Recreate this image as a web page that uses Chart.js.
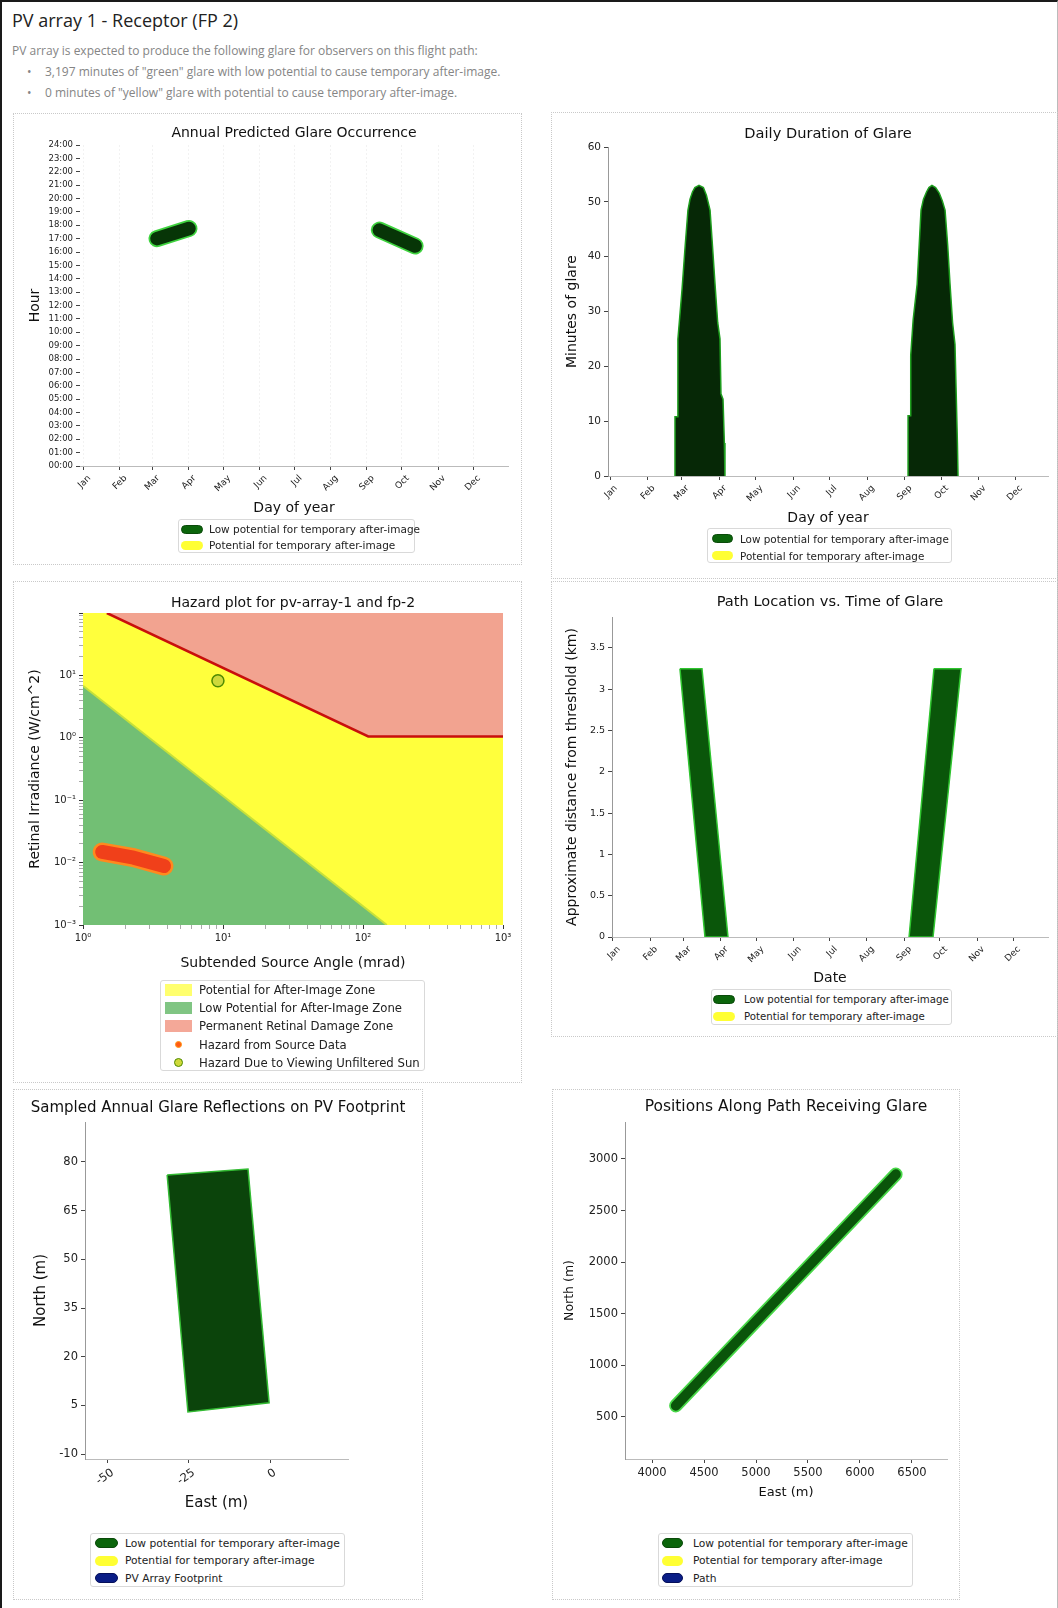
<!DOCTYPE html>
<html>
<head>
<meta charset="utf-8">
<title>PV array 1 - Receptor (FP 2)</title>
<script src="https://cdn.jsdelivr.net/npm/chart.js@4.4.1/dist/chart.umd.min.js"></script>
<style>
  html, body { margin: 0; background: #fff; }
  body { position: relative; width: 1058px; height: 1608px; overflow: hidden; font-family: 'Open Sans', sans-serif; }
  #frame { position: absolute; left: 0; top: 0; width: 1058px; height: 1608px; box-sizing: border-box;
           border-left: 2px solid #1a1a1a; border-top: 2px solid #1a1a1a; border-right: 1px solid #bbb; }
  .hdr { position: absolute; white-space: nowrap; }
  .desc { font-size: 12px; line-height: 16px; color: #858585; }
  .panel { position: absolute; box-sizing: border-box; border: 1px dotted #c9c9c9; }
  canvas { position: absolute; }
  .leg { position: absolute; box-sizing: border-box; border: 1px solid #d9d9d9; border-radius: 3px; background: #fff;
         font-family: 'DejaVu Sans', sans-serif; color: #222; }
  .leg .row { display: flex; align-items: center; height: var(--row); white-space: nowrap; }
  .leg .sw { display: inline-block; flex: none; box-sizing: border-box; margin-left: var(--swl); margin-right: var(--gap);
             width: var(--sww); height: var(--swh); border-radius: 5px; border: 1px solid transparent; }
  .leg .sw.rect { border-radius: 0; border: none; }
  .leg .sw.dot { width: 7px; height: 7px; border-radius: 50%;
                 margin-left: calc(var(--swl) + (var(--sww) - 7px) / 2); margin-right: calc(var(--gap) + (var(--sww) - 7px) / 2); }
  .leg .sw.ring { width: 9px; height: 9px; border-radius: 50%; border-width: 1.5px;
                  margin-left: calc(var(--swl) + (var(--sww) - 9px) / 2); margin-right: calc(var(--gap) + (var(--sww) - 9px) / 2); }
</style>
</head>
<body>
<div id="frame"></div>

<div class="hdr" style="left:12px;top:7px;font-size:18px;line-height:26px;color:#222">PV array 1 - Receptor (FP 2)</div>
<div class="hdr desc" style="left:12px;top:43px">PV array is expected to produce the following glare for observers on this flight path:</div>
<div class="hdr desc" style="left:27px;top:64px">•</div>
<div class="hdr desc" style="left:45px;top:64px">3,197 minutes of "green" glare with low potential to cause temporary after-image.</div>
<div class="hdr desc" style="left:27px;top:85px">•</div>
<div class="hdr desc" style="left:45px;top:85px">0 minutes of "yellow" glare with potential to cause temporary after-image.</div>

<div class="panel" style="left:13px;top:113px;width:509px;height:452px"></div>
<div class="panel" style="left:551px;top:112px;width:507px;height:467px"></div>
<div class="panel" style="left:13px;top:581px;width:509px;height:502px"></div>
<div class="panel" style="left:551px;top:581px;width:507px;height:456px"></div>
<div class="panel" style="left:13px;top:1089px;width:410px;height:511px"></div>
<div class="panel" style="left:552px;top:1089px;width:408px;height:511px"></div>

<canvas id="c1" width="509" height="452" style="left:13px;top:113px;width:509px;height:452px"></canvas>
<canvas id="c2" width="506" height="467" style="left:551px;top:112px;width:506px;height:467px"></canvas>
<canvas id="c3" width="509" height="502" style="left:13px;top:581px;width:509px;height:502px"></canvas>
<canvas id="c4" width="506" height="456" style="left:551px;top:581px;width:506px;height:456px"></canvas>
<canvas id="c5" width="410" height="511" style="left:13px;top:1089px;width:410px;height:511px"></canvas>
<canvas id="c6" width="408" height="511" style="left:552px;top:1089px;width:408px;height:511px"></canvas>

<div id="leg1" class="leg" style="left:178px;top:519px;width:237px;height:34px;padding-top:1px;font-size:10.5px;--row:16px;--swl:2px;--sww:22px;--swh:9px;--gap:6px"></div>
<div id="leg2" class="leg" style="left:707px;top:528px;width:245px;height:35px;padding-top:1px;font-size:10.4px;--row:17px;--swl:4px;--sww:21px;--swh:9px;--gap:7px"></div>
<div id="leg3" class="leg" style="left:160px;top:980px;width:265px;height:91px;padding-top:0;font-size:11.7px;--row:18.2px;--swl:4px;--sww:27px;--swh:12px;--gap:7px"></div>
<div id="leg4" class="leg" style="left:711px;top:989px;width:241px;height:36px;padding-top:1px;font-size:10.2px;--row:17px;--swl:1px;--sww:22px;--swh:9px;--gap:9px"></div>
<div id="leg5" class="leg" style="left:90px;top:1533px;width:255px;height:54px;padding-top:0.5px;font-size:10.7px;--row:17.5px;--swl:4px;--sww:23px;--swh:10px;--gap:7px"></div>
<div id="leg6" class="leg" style="left:658px;top:1533px;width:255px;height:54px;padding-top:0.5px;font-size:10.7px;--row:17.5px;--swl:3px;--sww:21px;--swh:10px;--gap:10px"></div>

<script>
// ===== DATA =====
const MONTHS = ['Jan', 'Feb', 'Mar', 'Apr', 'May', 'Jun', 'Jul', 'Aug', 'Sep', 'Oct', 'Nov', 'Dec'];
const MONTH_START = [0, 31, 59, 90, 120, 151, 181, 212, 243, 273, 304, 334];

// Annual predicted glare occurrence (day of year, hour)
const glareDaysA = [63, 90.5];
const glareHoursA = [17.0, 17.76];
const glareDaysB = [253.7, 284.4];
const glareHoursB = [17.64, 16.45];
const hourTicks = [0, 1, 2, 3, 4, 5, 6, 7, 8, 9, 10, 11, 12, 13, 14, 15, 16, 17, 18, 19, 20, 21, 22, 23, 24];

// Daily duration of glare (outline of each season, day / minutes)
const springDays = [53.6, 53.6, 56, 56, 59.4, 62, 64.3, 66, 68, 70, 73.4, 77, 79.5, 82.5, 84.5, 86.6, 88.8, 90.7, 91.5, 93.2, 94.3, 94.8];
const springMinutes = [0, 10.8, 10.8, 25, 34, 42, 48.5, 50.5, 51.8, 52.6, 53, 52.6, 51.2, 48.5, 42, 35, 28, 25, 15, 14, 6, 0];
const autumnDays = [245.8, 245.8, 248, 248, 250, 253.3, 256.5, 258.5, 261, 263, 265.5, 268.5, 271.5, 274, 276.3, 278.5, 280.4, 282.5, 284.5, 285.5, 286.5, 287];
const autumnMinutes = [0, 11, 11, 22, 28.5, 35, 48.5, 50.5, 51.8, 52.6, 53, 52.6, 51.6, 50.2, 48.5, 42, 35, 28, 24, 15, 6, 0];
const minuteTicks = [0, 10, 20, 30, 40, 50, 60];

// Hazard plot (subtended angle mrad / retinal irradiance W/cm^2)
const damageAngle = [1.48, 109, 1000];
const damageIrr = [100, 1.05, 1.05];
const afterImageAngle = [1, 1.48, 109, 1000];
const afterImageIrr = [100, 100, 1.05, 1.05];
const lowAngle = [1, 148];
const lowIrr = [6.8, 0.001];
const sourceAngle = [1.37, 2.3, 3.79];
const sourceIrr = [0.0148, 0.012, 0.0088];
const sunAngle = [9.2];
const sunIrr = [8.2];

// Path location vs. time of glare (day / km)
const bandADays = [55.9, 74.3, 96, 76.8];
const bandAKm = [3.25, 3.25, 0, 0];
const bandBDays = [268, 290.6, 267.2, 247.2];
const bandBKm = [3.25, 3.25, 0, 0];
const kmTicks = [0, 0.5, 1, 1.5, 2, 2.5, 3, 3.5];

// Sampled reflections on PV footprint (east / north, m)
const footprintEast = [-31.7, -6.8, -0.3, -25.3];
const footprintNorth = [76, 77.8, 5.8, 3.0];
const footEastTicks = [-50, -25, 0];
const footNorthTicks = [-10, 5, 20, 35, 50, 65, 80];

// Positions along path receiving glare (east / north, m)
const pathEast = [4229, 6345];
const pathNorth = [610, 2851];
const pathEastTicks = [4000, 4500, 5000, 5500, 6000, 6500];
const pathNorthTicks = [500, 1000, 1500, 2000, 2500, 3000];

// ===== COLOURS =====
const LEG_GREEN = '#0b650b';
const YELLOW = '#ffff33';
const NAVY = '#0a1d86';

Chart.defaults.font.family = "'DejaVu Sans', sans-serif";
Chart.defaults.color = '#222';

const pts = (xs, ys) => xs.map((x, i) => ({ x: x, y: ys[i] }));
const closed = (xs, ys) => pts(xs.concat(xs[0]), ys.concat(ys[0]));

// legend drawn as html so it can sit in its own framed box
const htmlLegend = {
    id: 'htmlLegend',
    afterUpdate(chart, args, opts) {
        const box = document.getElementById(opts.containerID);
        box.innerHTML = '';
        chart.data.datasets.filter(ds => ds.label).forEach(ds => {
            const row = document.createElement('div');
            row.className = 'row';
            const sw = document.createElement('span');
            sw.className = 'sw ' + (ds.swatch || 'pill');
            sw.style.background = ds.swatchFill;
            if (ds.swatchEdge) sw.style.borderColor = ds.swatchEdge;
            const tx = document.createElement('span');
            tx.textContent = ds.label;
            row.append(sw, tx);
            box.append(row);
        });
    }
};

function xAxis(o) {
    return {
        type: o.type || 'linear', min: o.min, max: o.max,
        afterBuildTicks: s => { s.ticks = o.ticks.map(v => ({ value: v })); },
        afterFit: s => { s.height = o.h; },
        ticks: {
            autoSkip: false, minRotation: o.rot || 0, maxRotation: o.rot || 0, labelOffset: o.off || 0,
            padding: o.tpad !== undefined ? o.tpad : 3, color: '#222', font: { size: o.font }, callback: o.label
        },
        grid: { display: true, drawOnChartArea: !!o.grid, color: 'rgba(0,0,0,0.05)', tickLength: 4, tickColor: o.tickColor || '#444' },
        border: o.border || { display: true, color: '#bbb', dash: [2, 2] },
        title: { display: true, text: o.title, color: '#111', font: { size: o.titleSize }, padding: 0 }
    };
}

function yAxis(o) {
    return {
        type: o.type || 'linear', min: o.min, max: o.max,
        afterBuildTicks: s => { s.ticks = o.ticks.map(v => ({ value: v })); },
        afterFit: s => { s.width = o.w; },
        ticks: { autoSkip: false, padding: 3, color: '#222', font: { size: o.font }, callback: o.label },
        grid: { display: true, drawOnChartArea: false, tickLength: 4, tickColor: o.tickColor || '#444' },
        border: o.border || { display: true, color: '#999' },
        title: { display: true, text: o.title, color: '#111', font: { size: o.titleSize }, padding: { top: o.titlePad, bottom: 0 } }
    };
}

// empty right-hand box, keeps the plot narrow while the title uses the full width
function spacer(w) {
    return { position: 'right', display: true, afterFit: s => { s.width = w; },
             ticks: { display: false }, grid: { display: false }, border: { display: false } };
}

function options(o) {
    return {
        responsive: false, animation: false, events: [],
        layout: { padding: o.pad },
        elements: { point: { radius: 0 }, line: { tension: 0 } },
        plugins: {
            legend: { display: false },
            tooltip: { enabled: false },
            title: {
                display: true, text: o.title, fullSize: !!o.fullTitle, color: '#111',
                font: { size: o.titleSize, weight: 'normal' }, padding: o.titlePad
            },
            htmlLegend: { containerID: o.legend }
        },
        scales: o.scales
    };
}

const monthLabel = (v, i) => MONTHS[i];
const plain = v => String(v);

// ===== ANNUAL PREDICTED GLARE OCCURRENCE =====
function pill(data, width, color, extra) {
    return Object.assign({ data: data, showLine: true, borderColor: color, borderWidth: width,
        borderCapStyle: 'round', borderJoinStyle: 'round', fill: false }, extra || {});
}

new Chart(document.getElementById('c1'), {
    type: 'scatter',
    data: {
        datasets: [
            pill(pts(glareDaysA, glareHoursA), 13.5, '#073507',
                { label: 'Low potential for temporary after-image', swatchFill: LEG_GREEN, swatchEdge: '#0a4a0a' }),
            pill(pts(glareDaysA, glareHoursA), 17, '#3fd33f'),
            pill(pts(glareDaysB, glareHoursB), 13.5, '#073507'),
            pill(pts(glareDaysB, glareHoursB), 17, '#3fd33f'),
            { label: 'Potential for temporary after-image', data: [], swatchFill: YELLOW }
        ]
    },
    plugins: [htmlLegend],
    options: options({
        title: 'Annual Predicted Glare Occurrence', titleSize: 14, titlePad: { top: 11.6, bottom: 3.6 },
        legend: 'leg1', pad: { left: 0, right: 14, top: 0, bottom: 48.6 },
        scales: {
            x: xAxis({ min: -3, max: 364, ticks: MONTH_START, label: monthLabel, h: 50.4, rot: 45, off: 6, font: 9,
                       grid: true, title: 'Day of year', titleSize: 14 }),
            y: yAxis({ min: 0, max: 24, ticks: hourTicks, label: v => String(v).padStart(2, '0') + ':00', w: 67, font: 8.5,
                       border: { display: false }, title: 'Hour', titleSize: 14, titlePad: 13.6 })
        }
    })
});

// ===== DAILY DURATION OF GLARE =====
function season(days, mins, extra) {
    return Object.assign({ data: pts(days, mins), showLine: true, fill: 'origin',
        backgroundColor: '#062806', borderColor: '#1e9e1e', borderWidth: 1.5 }, extra || {});
}

new Chart(document.getElementById('c2'), {
    type: 'scatter',
    data: {
        datasets: [
            season(springDays, springMinutes,
                { label: 'Low potential for temporary after-image', swatchFill: LEG_GREEN, swatchEdge: '#0a4a0a' }),
            season(autumnDays, autumnMinutes),
            { label: 'Potential for temporary after-image', data: [], swatchFill: YELLOW }
        ]
    },
    plugins: [htmlLegend],
    options: options({
        title: 'Daily Duration of Glare', titleSize: 14.6, titlePad: { top: 13.2, bottom: 4.3 },
        legend: 'leg2', pad: { left: 0, right: 9, top: 0, bottom: 52.6 },
        scales: {
            x: xAxis({ min: -1.65, max: 361.2, ticks: MONTH_START, label: monthLabel, h: 50.4, rot: 45, off: 6, font: 9,
                       title: 'Day of year', titleSize: 14 }),
            y: yAxis({ min: 0, max: 60, ticks: minuteTicks, label: plain, w: 57, font: 10.5,
                       title: 'Minutes of glare', titleSize: 14, titlePad: 12.6 })
        }
    })
});

// ===== HAZARD PLOT =====
const SUP = { '-': '⁻', '0': '⁰', '1': '¹', '2': '²', '3': '³' };
const isDecade = v => Math.abs(Math.log10(v) - Math.round(Math.log10(v))) < 1e-9;
const decadeLabel = v => isDecade(v) ? '10' + String(Math.round(Math.log10(v))).split('').map(c => SUP[c]).join('') : '';
function logTicks(lo, hi) {
    const out = [];
    for (let d = lo; d < hi; d *= 10) {
        for (let m = 1; m < 10; m++) out.push(d * m);
    }
    out.push(hi);
    return out;
}
const logTickColor = ctx => (ctx.tick && isDecade(ctx.tick.value)) ? '#333' : '#aaa';

new Chart(document.getElementById('c3'), {
    type: 'scatter',
    data: {
        datasets: [
            { label: 'Potential for After-Image Zone', data: pts(afterImageAngle, afterImageIrr), showLine: true,
              fill: 'start', backgroundColor: '#ffff3c', borderWidth: 0, order: 10, swatch: 'rect', swatchFill: '#ffff6e' },
            { label: 'Low Potential for After-Image Zone', data: pts(lowAngle, lowIrr), showLine: true,
              fill: 'start', backgroundColor: '#72bf74', borderColor: '#c6e03a', borderWidth: 2, order: 9,
              swatch: 'rect', swatchFill: '#80c583' },
            { label: 'Permanent Retinal Damage Zone', data: pts(damageAngle, damageIrr), showLine: true,
              fill: 'end', backgroundColor: '#f2a390', borderColor: '#c8100c', borderWidth: 2.5, order: 8,
              swatch: 'rect', swatchFill: '#f4a898' },
            { label: 'Hazard from Source Data', data: pts(sourceAngle, sourceIrr), showLine: true, fill: false,
              borderColor: '#f0401a', borderWidth: 14, borderCapStyle: 'round', borderJoinStyle: 'round', order: 4,
              swatch: 'dot', swatchFill: '#ff5a14', swatchEdge: '#ff9a1a' },
            { data: pts(sourceAngle, sourceIrr), showLine: true, fill: false,
              borderColor: '#ff8a1e', borderWidth: 19, borderCapStyle: 'round', borderJoinStyle: 'round', order: 5 },
            { label: 'Hazard Due to Viewing Unfiltered Sun', data: pts(sunAngle, sunIrr), showLine: false,
              pointRadius: 6, pointBackgroundColor: '#cfd93a', pointBorderColor: '#4f8a00', pointBorderWidth: 1.5, order: 1,
              swatch: 'ring', swatchFill: '#cfd93a', swatchEdge: '#4f8a00' }
        ]
    },
    plugins: [htmlLegend],
    options: options({
        title: 'Hazard plot for pv-array-1 and fp-2', titleSize: 14, titlePad: { top: 13.6, bottom: 1.6 },
        legend: 'leg3', pad: { left: 0, right: 19, top: 0, bottom: 111.6 },
        scales: {
            x: xAxis({ type: 'logarithmic', min: 1, max: 1000, ticks: logTicks(1, 1000), label: decadeLabel, h: 46.4,
                       font: 10, tickColor: logTickColor, border: { display: false },
                       title: 'Subtended Source Angle (mrad)', titleSize: 14 }),
            y: yAxis({ type: 'logarithmic', min: 0.001, max: 100, ticks: logTicks(0.001, 100),
                       label: v => v >= 100 ? '' : decadeLabel(v), w: 70, font: 10, tickColor: logTickColor,
                       border: { display: false }, title: 'Retinal Irradiance (W/cm^2)', titleSize: 14, titlePad: 13.6 })
        }
    })
});

// ===== PATH LOCATION VS. TIME OF GLARE =====
function band(days, km, extra) {
    return Object.assign({ data: closed(days, km), showLine: true, fill: 'shape',
        backgroundColor: '#0a560a', borderColor: '#2fc42f', borderWidth: 1.5 }, extra || {});
}

new Chart(document.getElementById('c4'), {
    type: 'scatter',
    data: {
        datasets: [
            band(bandADays, bandAKm, { label: 'Low potential for temporary after-image', swatchFill: LEG_GREEN, swatchEdge: '#0a4a0a' }),
            band(bandBDays, bandBKm),
            { label: 'Potential for temporary after-image', data: [], swatchFill: YELLOW }
        ]
    },
    plugins: [htmlLegend],
    options: options({
        title: 'Path Location vs. Time of Glare', titleSize: 14.6, titlePad: { top: 12.2, bottom: 6.3 },
        legend: 'leg4', pad: { left: 0, right: 9, top: 0, bottom: 50.6 },
        scales: {
            x: xAxis({ min: -0.83, max: 363.2, ticks: MONTH_START, label: monthLabel, h: 49.4, rot: 45, off: 6, font: 9,
                       title: 'Date', titleSize: 14 }),
            y: yAxis({ min: 0, max: 3.875, ticks: kmTicks, label: plain, w: 61, font: 9.5,
                       title: 'Approximate distance from threshold (km)', titleSize: 14, titlePad: 12.6 })
        }
    })
});

// ===== SAMPLED ANNUAL GLARE REFLECTIONS ON PV FOOTPRINT =====
new Chart(document.getElementById('c5'), {
    type: 'scatter',
    data: {
        datasets: [
            { label: 'Low potential for temporary after-image', data: closed(footprintEast, footprintNorth), showLine: true,
              fill: 'shape', backgroundColor: '#0b440b', borderColor: '#33bb33', borderWidth: 1.5,
              swatchFill: LEG_GREEN, swatchEdge: '#0a4a0a' },
            { label: 'Potential for temporary after-image', data: [], swatchFill: YELLOW },
            { label: 'PV Array Footprint', data: [], swatchFill: NAVY, swatchEdge: '#06105a' }
        ]
    },
    plugins: [htmlLegend],
    options: options({
        title: 'Sampled Annual Glare Reflections on PV Footprint', titleSize: 15, fullTitle: true, titlePad: { top: 10, bottom: 5 },
        legend: 'leg5', pad: { left: 0, right: 0, top: 0, bottom: 88 },
        scales: {
            x: xAxis({ min: -57, max: 24, ticks: footEastTicks, label: plain, h: 53, rot: 35, off: 5, font: 11.5,
                       title: 'East (m)', titleSize: 15 }),
            y: yAxis({ min: -11.5, max: 92.3, ticks: footNorthTicks, label: plain, w: 72, font: 11.5,
                       title: 'North (m)', titleSize: 15, titlePad: 19 }),
            yPad: spacer(75)
        }
    })
});

// ===== POSITIONS ALONG PATH RECEIVING GLARE =====
new Chart(document.getElementById('c6'), {
    type: 'scatter',
    data: {
        datasets: [
            pill(pts(pathEast, pathNorth), 10, '#0a540a',
                { label: 'Low potential for temporary after-image', swatchFill: LEG_GREEN, swatchEdge: '#0a4a0a' }),
            pill(pts(pathEast, pathNorth), 13.5, '#48d848'),
            { label: 'Potential for temporary after-image', data: [], swatchFill: YELLOW },
            { label: 'Path', data: [], swatchFill: NAVY, swatchEdge: '#06105a' }
        ]
    },
    plugins: [htmlLegend],
    options: options({
        title: 'Positions Along Path Receiving Glare', titleSize: 15.5, titlePad: { top: 8.7, bottom: 5.7 },
        legend: 'leg6', pad: { left: 0, right: 13, top: 0, bottom: 99.2 },
        scales: {
            x: xAxis({ min: 3740, max: 6837, ticks: pathEastTicks, label: plain, h: 41.8, font: 11.5,
                       title: 'East (m)', titleSize: 13 }),
            y: yAxis({ min: 93, max: 3358, ticks: pathNorthTicks, label: plain, w: 73, font: 11.5,
                       title: 'North (m)', titleSize: 12.5, titlePad: 10.5 })
        }
    })
});
</script>
</body>
</html>
